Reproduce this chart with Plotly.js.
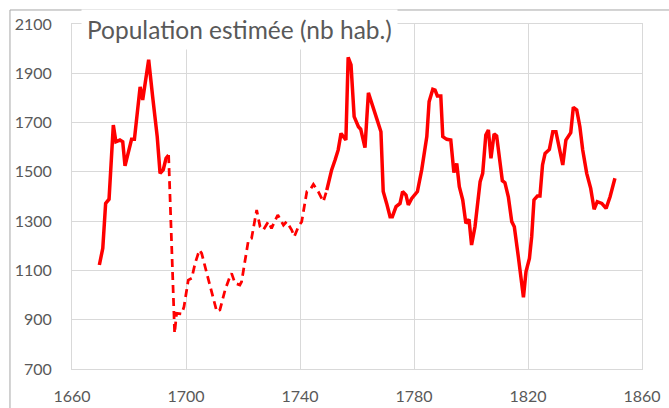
<!DOCTYPE html>
<html>
<head>
<meta charset="utf-8">
<script src="https://cdn.plot.ly/plotly-3.0.1.min.js"></script>
<style>
  html, body { margin: 0; padding: 0; background: #fff; }
  #chart { width: 669px; height: 408px; }
</style>
</head>
<body>
<div id="chart"></div>
<script>
// first known period (solid)
const yearsA = [1669.6, 1670.8, 1671.8, 1673, 1674.5, 1675.4, 1676.8, 1677.8, 1678.6, 1680.9, 1681.9, 1683.9, 1684.8, 1686.9, 1688.3, 1689.9, 1690.9, 1692, 1693, 1693.9];
const popA = [1122, 1190, 1372, 1389, 1690, 1622, 1629, 1622, 1524, 1632, 1632, 1845, 1792, 1955, 1805, 1643, 1494, 1508, 1555, 1568];

// uncertain period (dashed)
const yearsB = [1693.9, 1696, 1696.7, 1698.5, 1699.3, 1700.8, 1702, 1703.2, 1704.7, 1705.5, 1707.3, 1709, 1710.8, 1711.9, 1713.7, 1715.4, 1716, 1717.2, 1718.9, 1719.5, 1720.7, 1721.9, 1723, 1724.8, 1726, 1727.1, 1728.9, 1730, 1732.2, 1734.2, 1735.3, 1737.1, 1738, 1739.4, 1740.6, 1742.4, 1743.5, 1744.7, 1746.4, 1748.2, 1749.4];
const popB = [1568, 845, 926, 923, 953, 1061, 1068, 1129, 1183, 1169, 1088, 1007, 933, 940, 1020, 1075, 1088, 1048, 1041, 1054, 1142, 1223, 1230, 1345, 1277, 1264, 1298, 1271, 1325, 1284, 1298, 1264, 1237, 1277, 1298, 1420, 1426, 1449, 1420, 1379, 1426];

// second known period (solid)
const yearsC = [1749.4, 1751.1, 1752.3, 1753.4, 1754.4, 1756.1, 1756.9, 1757.9, 1759, 1760.5, 1761.3, 1762.8, 1764, 1765.7, 1766.9, 1768.4, 1769.2, 1770.4, 1771.6, 1772.4, 1773.7, 1775.1, 1776, 1777.2, 1778, 1779.2, 1781.2, 1782.7, 1784.5, 1785.3, 1786.6, 1787.4, 1788.2, 1789.4, 1790.1, 1791.5, 1792.9, 1794, 1795, 1795.9, 1797.1, 1798.2, 1799.3, 1800.2, 1801.4, 1803.2, 1804.1, 1805.2, 1806.1, 1807, 1808.1, 1809, 1810.2, 1811, 1811.9, 1813.1, 1814.3, 1815.2, 1816.6, 1817.5, 1818.4, 1819.3, 1820.5, 1821.3, 1822.1, 1823.3, 1824.2, 1825.1, 1826, 1827.5, 1828.7, 1829.8, 1831, 1832.2, 1833.3, 1835, 1835.9, 1837.1, 1838.2, 1839.2, 1840.6, 1842, 1843.2, 1844.3, 1845.9, 1847.4, 1848.8, 1850.5];
const popC = [1426, 1508, 1548, 1589, 1656, 1629, 1965, 1934, 1724, 1683, 1673, 1598, 1821, 1765, 1717, 1663, 1420, 1372, 1318, 1318, 1359, 1372, 1420, 1406, 1366, 1392, 1420, 1508, 1643, 1785, 1835, 1832, 1808, 1808, 1643, 1632, 1629, 1497, 1534, 1440, 1386, 1291, 1307, 1203, 1277, 1460, 1494, 1650, 1670, 1555, 1654, 1646, 1521, 1464, 1456, 1399, 1298, 1277, 1156, 1075, 991, 1095, 1149, 1237, 1386, 1402, 1402, 1528, 1575, 1591, 1663, 1663, 1602, 1528, 1629, 1659, 1762, 1751, 1683, 1589, 1494, 1433, 1348, 1379, 1372, 1352, 1399, 1474];

const red = '#ff0000';
const grey = '#595959';

let data = [
    { x: yearsB, y: popB, type: 'scatter', mode: 'lines',
      line: { color: red, width: 2.75, dash: '8px,5px' } },
    { x: yearsA, y: popA, type: 'scatter', mode: 'lines',
      line: { color: red, width: 3.5, shape: 'linear' } },
    { x: yearsC, y: popC, type: 'scatter', mode: 'lines',
      line: { color: red, width: 3.5, shape: 'linear' } }
];

let layout = {
    width: 669,
    height: 408,
    showlegend: false,
    paper_bgcolor: '#fff',
    plot_bgcolor: '#fff',
    font: { family: 'Lato, "Open Sans", sans-serif', color: grey, size: 16 },
    margin: { l: 72, r: 27, t: 24, b: 39 },
    xaxis: {
        range: [1660, 1860],
        tickmode: 'linear', tick0: 1660, dtick: 40,
        showgrid: true, gridcolor: '#d9d9d9', gridwidth: 1,
        showline: true, linecolor: '#d9d9d9', mirror: true,
        zeroline: false, ticks: '', ticklabelstandoff: 13,
        tickfont: { size: 16, color: grey }
    },
    yaxis: {
        range: [700, 2100],
        tickmode: 'linear', tick0: 700, dtick: 200,
        showgrid: true, gridcolor: '#d9d9d9', gridwidth: 1,
        showline: true, linecolor: '#d9d9d9', mirror: true,
        zeroline: false, ticks: '', ticklabelstandoff: 16,
        tickfont: { size: 16, color: grey }
    },
    annotations: [{
        text: 'Population estimée (nb hab.)',
        xref: 'paper', yref: 'paper',
        x: 0.0158, y: 0.985, xanchor: 'left', yanchor: 'middle',
        showarrow: false, bgcolor: '#fff', borderpad: 5,
        font: { size: 24.5, color: grey }
    }],
    shapes: [
        { type: 'line', xref: 'paper', yref: 'paper', x0: -0.1088, x1: 1.05, y0: 1.0406, y1: 1.0406,
          line: { color: '#a6a6a6', width: 1 } },
        { type: 'line', xref: 'paper', yref: 'paper', x0: -0.1088, x1: -0.1088, y0: -0.12, y1: 1.0406,
          line: { color: '#a6a6a6', width: 1 } }
    ]
};

Plotly.newPlot('chart', data, layout, { staticPlot: true });
</script>
</body>
</html>
